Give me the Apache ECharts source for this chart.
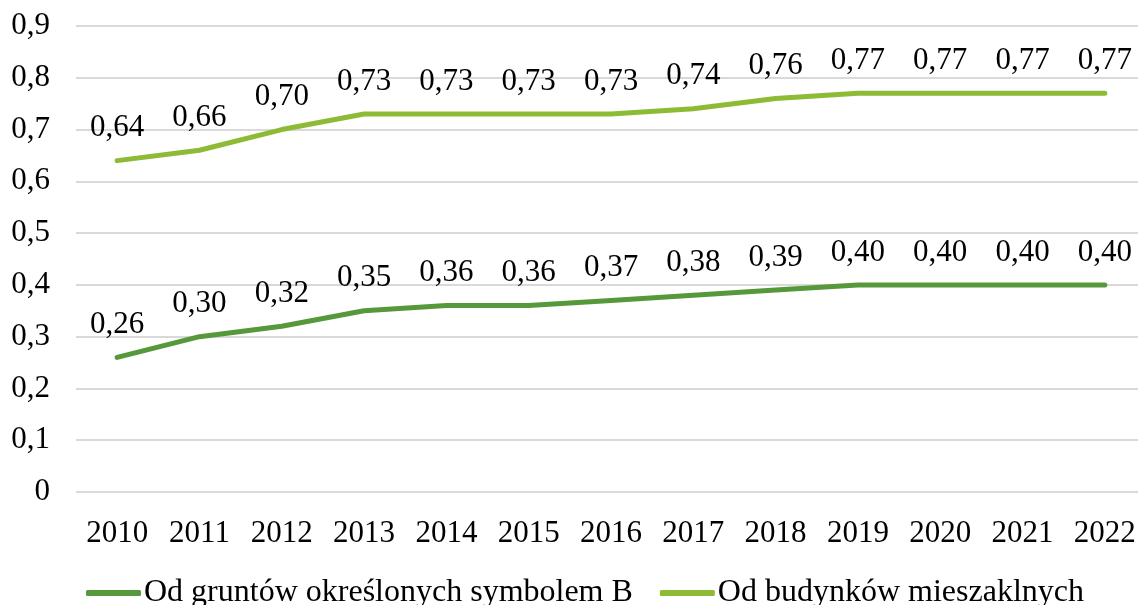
<!DOCTYPE html>
<html lang="pl">
    <head>
        <meta charset="UTF-8" />
        <script src="https://cdn.jsdelivr.net/npm/echarts@6/dist/echarts.min.js"></script>
        <title>Stawki podatku</title>
        <style>
            html, body { margin: 0; padding: 0; background: #fff; overflow: hidden; }
            #chart { width: 1146px; height: 605px; }
        </style>
    </head>
    <body>
        <div id="chart"></div>
        <script type="text/javascript">
            var years = ["2010", "2011", "2012", "2013", "2014", "2015", "2016", "2017", "2018", "2019", "2020", "2021", "2022"];
            var grunty = [0.26, 0.30, 0.32, 0.35, 0.36, 0.36, 0.37, 0.38, 0.39, 0.40, 0.40, 0.40, 0.40];
            var budynki = [0.64, 0.66, 0.70, 0.73, 0.73, 0.73, 0.73, 0.74, 0.76, 0.77, 0.77, 0.77, 0.77];
            var names = ["Od gruntów określonych symbolem B", "Od budynków mieszaklnych"];

            var font = "'Liberation Serif', 'Times New Roman', serif";
            var chart = echarts.init(document.getElementById("chart"));

            function comma(v, digits) {
                return v.toFixed(digits).replace(".", ",");
            }

            function makeSeries(name, data, color) {
                return {
                    name: name,
                    type: "line",
                    data: data,
                    symbol: "circle",
                    symbolSize: 0,
                    showSymbol: true,
                    lineStyle: { color: color, width: 5, cap: "round", join: "round" },
                    itemStyle: { color: color },
                    label: {
                        show: true,
                        position: "top",
                        distance: 17,
                        color: "#000",
                        fontFamily: font,
                        fontSize: 31,
                        formatter: function (p) { return comma(p.value, 2); }
                    },
                    labelLayout: { hideOverlap: false },
                    animation: false
                };
            }

            chart.setOption({
                grid: { left: 76, right: 0, top: 26, bottom: 113 },
                legend: {
                    left: 81,
                    top: 572,
                    icon: "roundRect",
                    itemWidth: 55,
                    itemHeight: 6,
                    itemGap: 27,
                    textStyle: { fontFamily: font, fontSize: 32, color: "#000", padding: [0, 0, 0, -2] },
                    data: names
                },
                xAxis: {
                    type: "category",
                    data: years,
                    boundaryGap: true,
                    axisLine: { show: false },
                    axisTick: { show: false },
                    axisLabel: { margin: 26, color: "#000", fontFamily: font, fontSize: 31, interval: 0 }
                },
                yAxis: {
                    type: "value",
                    min: 0,
                    max: 0.9,
                    interval: 0.1,
                    axisLine: { show: false },
                    axisTick: { show: false },
                    splitLine: { lineStyle: { color: "#d9d9d9", width: 2 } },
                    axisLabel: {
                        margin: 26,
                        color: "#000",
                        fontFamily: font,
                        fontSize: 31,
                        formatter: function (v) { return v === 0 ? "0" : comma(v, 1); }
                    }
                },
                series: [
                    makeSeries(names[0], grunty, "#56993a"),
                    makeSeries(names[1], budynki, "#8dbb35")
                ]
            });
        </script>
    </body>
</html>
